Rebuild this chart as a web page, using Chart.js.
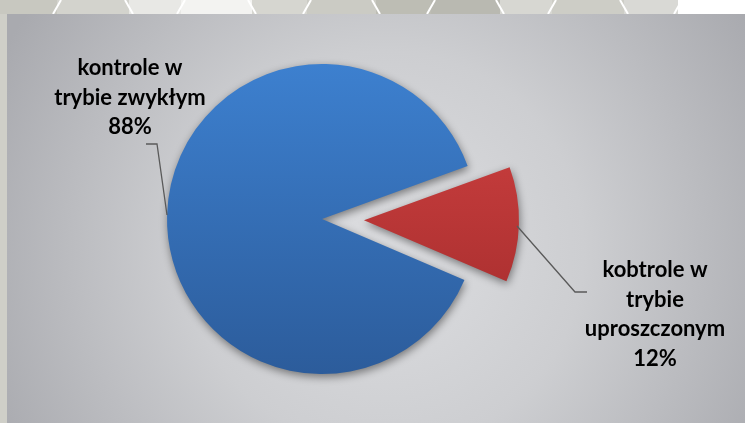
<!DOCTYPE html>
<html>
<head>
<meta charset="utf-8">
<script src="https://cdn.jsdelivr.net/npm/chart.js@4/dist/chart.umd.min.js"></script>
<style>
  html, body { margin: 0; padding: 0; background: #fff; }
  #wrap { width: 745px; height: 423px; position: relative; }
</style>
</head>
<body>
<div id="wrap"><canvas id="pie"></canvas></div>
<script>
// data
const categories = ['kobtrole w trybie uproszczonym', 'kontrole w trybie zwykłym'];
const values = [12, 88];
const labelLines = [
    ['kobtrole w', 'trybie', 'uproszczonym', '12%'],
    ['kontrole w', 'trybie zwykłym', '88%']
];
const explodeIndex = 0;

// hexagon strip at the top (decoration of the slide)
const hexEdges = [0, 57, 129, 181, 252, 307, 376, 431, 500, 552, 624, 678];
const hexFills = ['#c8c8c0', '#d3d3cd', '#e8e8e5', '#f3f3f1', '#d6d6d0', '#cbcbc4', '#bdbdb4', '#b9b9b1', '#d7d7d2', '#cdcdc6', '#d9d9d5'];

const panel = { left: 7, top: 14 };

const bgPlugin = {
    id: 'bg',
    beforeDraw(chart) {
        const ctx = chart.ctx;
        const W = chart.width, H = chart.height;
        ctx.save();
        ctx.fillStyle = '#ffffff';
        ctx.fillRect(0, 0, W, H);
        // top strip
        for (let i = 0; i < hexFills.length; i++) {
            ctx.fillStyle = hexFills[i];
            ctx.fillRect(hexEdges[i], 0, hexEdges[i + 1] - hexEdges[i], panel.top);
        }
        ctx.strokeStyle = '#ffffff';
        ctx.lineWidth = 2;
        for (let i = 1; i < hexEdges.length; i++) {
            const x = hexEdges[i];
            const d = i % 2 ? -4 : 4;
            ctx.beginPath();
            ctx.moveTo(x - d, 0);
            ctx.lineTo(x + d, panel.top);
            ctx.stroke();
        }
        // left strip
        ctx.fillStyle = '#cfcfc8';
        ctx.fillRect(0, panel.top, panel.left, H - panel.top);
        // grey panel
        const g = ctx.createRadialGradient(385, 250, 10, 385, 250, 430);
        g.addColorStop(0, '#dcdde0');
        g.addColorStop(0.45, '#cdced1');
        g.addColorStop(1, '#a9aaaf');
        ctx.fillStyle = g;
        ctx.fillRect(panel.left, panel.top, W - panel.left, H - panel.top);
        ctx.restore();
    }
};

// move the small slice out along its middle angle
const explodePlugin = {
    id: 'explode',
    afterDatasetUpdate(chart, args) {
        const arc = args.meta.data[explodeIndex];
        if (!arc) return;
        const mid = (arc.startAngle + arc.endAngle) / 2;
        arc.x += Math.cos(mid) * 42;
        arc.y += Math.sin(mid) * 42;
    }
};

const shadowPlugin = {
    id: 'shadow',
    beforeDatasetsDraw(chart) {
        const ctx = chart.ctx;
        ctx.save();
        ctx.shadowColor = 'rgba(0,0,0,0.45)';
        ctx.shadowBlur = 9;
        ctx.shadowOffsetX = 1;
        ctx.shadowOffsetY = 3;
    },
    afterDatasetsDraw(chart) {
        chart.ctx.restore();
    }
};

const labelPlugin = {
    id: 'labels',
    afterDraw(chart) {
        const ctx = chart.ctx;
        ctx.save();
        // leader lines
        ctx.strokeStyle = '#5a5a5a';
        ctx.lineWidth = 1.3;
        ctx.beginPath();
        ctx.moveTo(517, 226);
        ctx.lineTo(575, 292);
        ctx.lineTo(587, 292);
        ctx.stroke();
        ctx.beginPath();
        ctx.moveTo(167, 215);
        ctx.lineTo(157, 144);
        ctx.lineTo(146, 144);
        ctx.stroke();
        // texts
        ctx.fillStyle = '#000';
        ctx.font = 'bold 22px Lato, "Open Sans", sans-serif';
        ctx.textAlign = 'center';
        ctx.textBaseline = 'middle';
        labelLines[0].forEach((t, i) => ctx.fillText(t, 655, 270 + i * 29.5));
        labelLines[1].forEach((t, i) => ctx.fillText(t, 130, 68 + i * 29.5));
        ctx.restore();
    }
};

function vGrad(chart, top, bottom) {
    const a = chart.chartArea;
    if (!a) return top;
    const g = chart.ctx.createLinearGradient(0, a.top, 0, a.bottom);
    g.addColorStop(0, top);
    g.addColorStop(1, bottom);
    return g;
}

new Chart(document.getElementById('pie'), {
    type: 'pie',
    data: {
        labels: categories,
        datasets: [{
            data: values,
            backgroundColor: ctx => ctx.dataIndex === 0
                ? vGrad(ctx.chart, '#d44343', '#9f2a2a')
                : vGrad(ctx.chart, '#3d80cf', '#2c5c9b'),
            borderWidth: 0,
            hoverOffset: 0,
            clip: false
        }]
    },
    options: {
        responsive: true,
        maintainAspectRatio: false,
        animation: false,
        rotation: 70,
        layout: { padding: { left: 167, right: 268, top: 64, bottom: 49 } },
        plugins: {
            legend: { display: false },
            tooltip: { enabled: false }
        },
        events: []
    },
    plugins: [bgPlugin, explodePlugin, shadowPlugin, labelPlugin]
});
</script>
</body>
</html>
